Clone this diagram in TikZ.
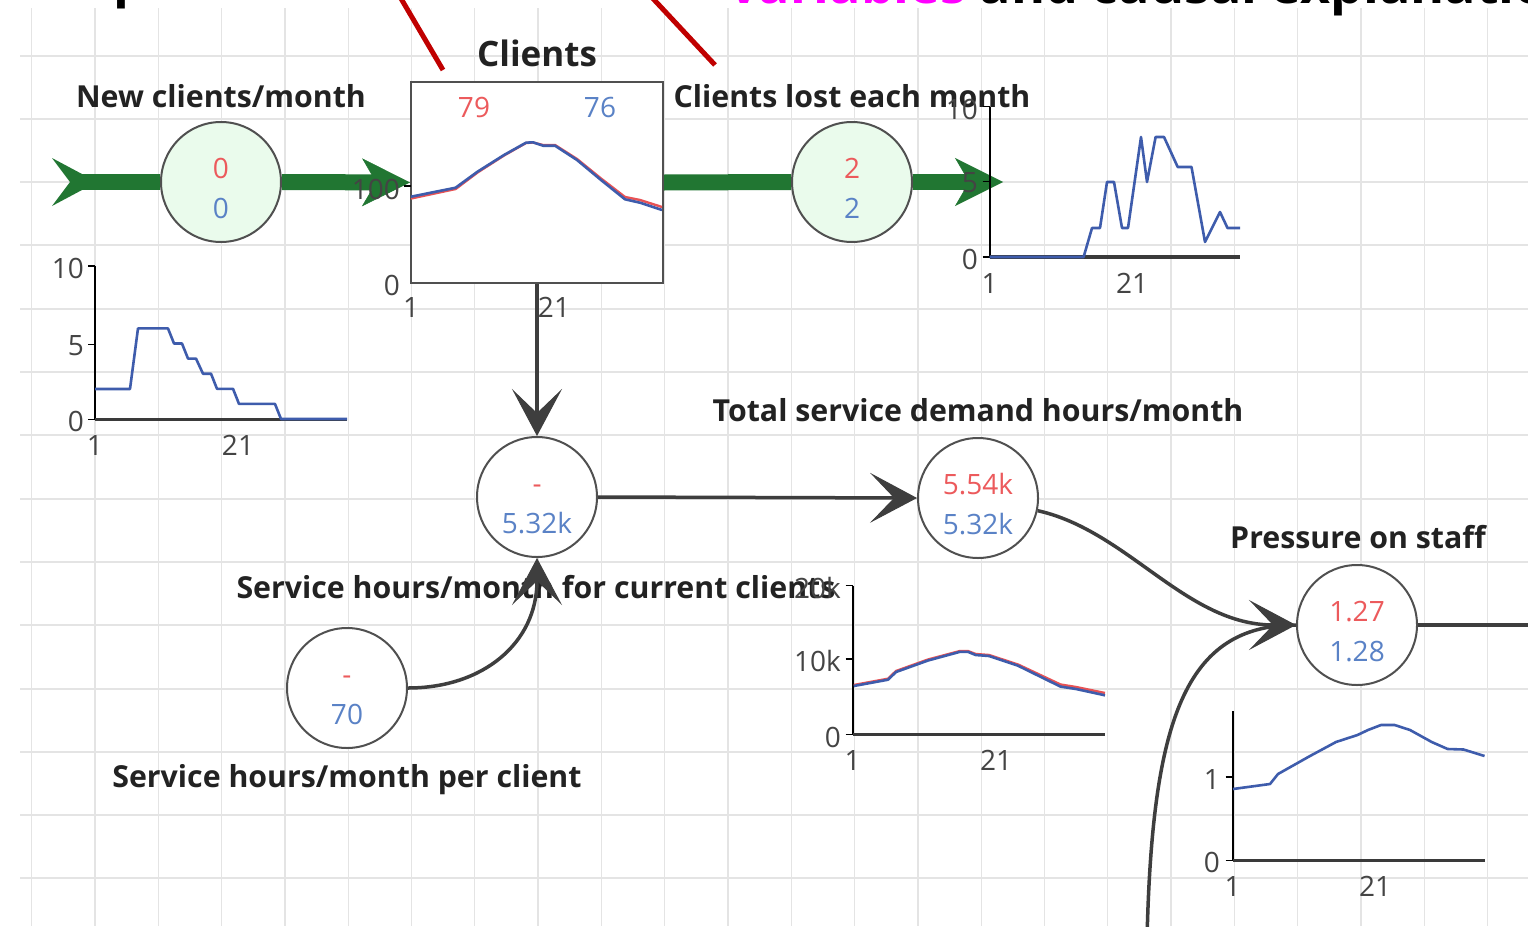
\documentclass[tikz,border=0pt]{standalone}
\usepackage{fontspec}
\setmainfont{Open Sans}
\usetikzlibrary{arrows.meta}
\pgfdeclarelayer{gridlayer}
\pgfdeclarelayer{flowlayer}
\pgfsetlayers{gridlayer,flowlayer,main}

\definecolor{flowgreen}{RGB}{33,118,50}
\definecolor{flowfill}{RGB}{234,251,236}
\definecolor{valred}{RGB}{236,90,92}
\definecolor{valblue}{RGB}{90,130,198}
\definecolor{plotblue}{RGB}{62,92,172}
\definecolor{plotred}{RGB}{232,82,84}
\definecolor{linkgray}{RGB}{62,62,62}
\definecolor{circgray}{RGB}{80,80,80}
\definecolor{gridgray}{RGB}{228,228,228}
\definecolor{axisgray}{RGB}{68,68,68}
\definecolor{labelink}{RGB}{34,34,34}
\definecolor{annred}{RGB}{192,0,0}
\definecolor{titlemagenta}{RGB}{255,0,255}

\newcommand\lblfont{\fontsize{30.3}{34}\selectfont\bfseries}
\newcommand\stocklblfont{\fontsize{35}{40}\selectfont\bfseries}
\newcommand\valfont{\fontsize{28}{32}\selectfont}
\newcommand\mytitlefont{\fontsize{52}{60}\selectfont\bfseries}

\tikzset{
  gridh/.style={draw=gridgray, line width=2pt},
  gridv/.style={draw=gridgray, line width=1.3pt},
  flowcirc/.style={circle, draw=circgray, line width=2pt, fill=flowfill, minimum size=120pt, inner sep=0pt},
  auxcirc/.style={circle, draw=circgray, line width=2pt, fill=white, minimum size=120pt, inner sep=0pt},
  stockbox/.style={rectangle, draw=circgray, line width=2pt, fill=white, minimum width=252pt, minimum height=201pt, inner sep=0pt},
  valr/.style={text=valred, font=\valfont, anchor=base, inner sep=0pt},
  valb/.style={text=valblue, font=\valfont, anchor=base, inner sep=0pt},
  varlabel/.style={text=labelink, font=\lblfont, anchor=base, inner sep=0pt},
  ticklab/.style={text=axisgray, font=\valfont, inner sep=0pt},
  ylab/.style={ticklab, anchor=east},
  xlab/.style={ticklab, anchor=base},
  flowband/.style={draw=flowgreen, line width=16pt},
  flowarrow/.style={flowband, -{Stealth[length=48pt,width=48pt,inset=14pt,line width=0.5pt]}},
  linkplain/.style={draw=linkgray, line width=3.5pt},
  link/.style={linkplain, -{Stealth[length=47pt,width=50pt,inset=24pt,line width=1pt]}},
  yaxis/.style={draw=black, line width=2pt},
  xaxis/.style={draw=axisgray!85!black, line width=3.5pt},
  tickmark/.style={draw=black, line width=1.5pt},
  plotline/.style={draw=plotblue, line width=2.6pt, line join=round},
  plotlinered/.style={draw=plotred, line width=2.4pt, line join=round},
  annot/.style={draw=annred, line width=5pt}
}

\begin{document}
\begin{tikzpicture}[x=1pt,y=-1pt]
\useasboundingbox (0,0) rectangle (1528,926);

% background and grid
\begin{pgfonlayer}{gridlayer}
  \clip (0,0) rectangle (1528,926);
  \fill[white] (0,0) rectangle (1528,926);
  \foreach \k in {0,...,13} {\draw[gridh] (20,{55.5+63.3*\k}) -- (1528,{55.5+63.3*\k});}
  \foreach \k in {0,...,23} {\draw[gridv] ({31.7+63.3*\k},8) -- ({31.7+63.3*\k},926);}
\end{pgfonlayer}

\clip (0,0) rectangle (1528,926);

% heading line, mostly above the page edge
\node[anchor=base west, inner sep=0pt, font=\mytitlefont] (headp) at (113,-4) {p};
\node[anchor=base west, inner sep=0pt, font=\mytitlefont, text=titlemagenta] (headvars) at (729,4) {variables \textcolor{black}{and causal explanation}};

% pointer lines
\coordinate (ptrAfrom) at (396,-10);
\coordinate (ptrAto) at (443,70);
\coordinate (ptrBfrom) at (645,-10);
\coordinate (ptrBto) at (715,65);
\draw[annot] (ptrAfrom) -- (ptrAto);
\draw[annot] (ptrBfrom) -- (ptrBto);

% stock and variables
\node[stockbox] (clients) at (537,182.5) {};
\node[flowcirc] (newc) at (221,182) {};
\node[flowcirc] (lost) at (852,182) {};
\node[auxcirc] (svc) at (537,497) {};
\node[auxcirc] (perc) at (347,688) {};
\node[auxcirc] (total) at (978,498) {};
\node[auxcirc] (press) at (1357,625) {};

% names
\node[text=labelink, font=\stocklblfont, anchor=base, inner sep=0pt] (clients-name) at (537,66) {Clients};
\node[varlabel] (newc-name) at (221,107) {New clients/month};
\node[varlabel] (lost-name) at (852,107) {Clients lost each month};
\node[varlabel] (total-name) at (978,421) {Total service demand hours/month};
\node[varlabel] (svc-name) at (536,598) {Service hours/month for current clients};
\node[varlabel] (perc-name) at (347,787) {Service hours/month per client};
\node[varlabel] (press-name) at (1358,548) {Pressure on staff};

% values
\node[valr] (clients-r) at (474,117) {79};
\node[valb] (clients-b) at (600,117) {76};
\node[valr] (newc-r) at (221,178) {0};
\node[valb] (newc-b) at (221,218) {0};
\node[valr] (lost-r) at (852,178) {2};
\node[valb] (lost-b) at (852,218) {2};
\node[valr] (svc-r) at (537,493) {-};
\node[valb] (svc-b) at (537,533) {5.32k};
\node[valr] (perc-r) at (347,684) {-};
\node[valb] (perc-b) at (347,724) {70};
\node[valr] (total-r) at (978,494) {5.54k};
\node[valb] (total-b) at (978,534) {5.32k};
\node[valr] (press-r) at (1357,621) {1.27};
\node[valb] (press-b) at (1357,661) {1.28};

% flows (under the circles)
\coordinate (source) at (70,182);
\coordinate (sink) at (1003,182);
\begin{pgfonlayer}{flowlayer}
  \clip (0,0) rectangle (1528,926);
  \fill[flowgreen] (source) ++(-18,-24) -- ++(45,24) -- ++(-45,24) -- ++(18,-24) -- cycle;
  \draw[flowband] (source) -- (newc.west);
  \draw[flowarrow] (newc.east) -- (clients.west);
  \draw[flowband] (clients.east) -- (lost.west);
  \draw[flowarrow] (lost.east) -- (sink);
\end{pgfonlayer}

% causal links
\coordinate (extin) at (1147,940);
\coordinate (pressout) at (1532,625);
\draw[link] (clients.south) -- (svc.north);
\draw[link] (perc.east) .. controls +(75,0) and +(0,85) .. (svc.south);
\draw[link] (svc.east) -- (total.west);
\draw[linkplain] (extin) .. controls (1152,720) and (1185,625) .. (press.west);
\draw[link] (total.-12) .. controls +(90,20) and +(-110,0) .. (press.west);
\draw[linkplain] (press.east) -- (pressout);

% chart: new clients per month
\draw[yaxis] (95,266) -- (95,419.5);
\draw[xaxis] (95,419.5) -- (347,419.5);
\foreach \ty in {266,344.5,419.5} {\draw[tickmark] (88,\ty) -- (95,\ty);}
\node[ylab] (nc-y10) at (84,268) {10};
\node[ylab] (nc-y5) at (84,346) {5};
\node[ylab] (nc-y0) at (84,421) {0};
\node[xlab] (nc-x1) at (95,455) {1};
\node[xlab] (nc-x21) at (238,455) {21};
\draw[plotline] (95,389) -- (130,389) -- (138,328.4) -- (168,328.4) -- (174,343.5) -- (182,343.5) -- (188,358.6) -- (196,358.6) -- (203,373.7) -- (211,373.7) -- (217,388.8) -- (233,388.8) -- (239,403.9) -- (275,403.9) -- (281,419) -- (347,419);

% chart: clients (inside the stock)
\draw[tickmark] (404,186) -- (411,186);
\node[ylab] (cl-y100) at (400,189) {100};
\node[ylab] (cl-y0) at (400,285) {0};
\node[xlab] (cl-x1) at (411,317) {1};
\node[xlab] (cl-x21) at (554,317) {21};
\draw[plotlinered] (411,198.5) -- (455.6,189) -- (477.5,172.5) -- (504,155.5) -- (526,143) -- (533,142.5) -- (543,145) -- (555,145) -- (577,159) -- (601,178.5) -- (625,197) -- (640,200) -- (662,207);
\draw[plotline] (411,196.7) -- (455.6,187.7) -- (477.5,171.7) -- (504,155) -- (526,142.7) -- (533,142.3) -- (543,145.7) -- (555,145.7) -- (577,160) -- (601,180) -- (625,199.3) -- (640,202.7) -- (662,210);

% chart: clients lost each month
\draw[yaxis] (989.5,106.5) -- (989.5,257);
\draw[xaxis] (989.5,257) -- (1240,257);
\foreach \ty in {106.5,181.7,257} {\draw[tickmark] (982.5,\ty) -- (989.5,\ty);}
\node[ylab] (cl-ly10) at (978,109) {10};
\node[ylab] (cl-ly5) at (978,183) {5};
\node[ylab] (cl-ly0) at (978,259) {0};
\node[xlab] (cl-lx1) at (989.5,293) {1};
\node[xlab] (cl-lx21) at (1132,293) {21};
\draw[plotline] (989.5,257) -- (1083.6,257) -- (1092,228) -- (1100,228) -- (1107,182) -- (1114,182) -- (1122,228) -- (1128,228) -- (1141,137) -- (1147,182) -- (1155.6,137) -- (1164,137) -- (1177.7,167) -- (1191.5,167) -- (1205,242) -- (1220,212) -- (1227.5,228) -- (1240,228);

% chart: service hours for current clients
\draw[yaxis] (852.7,585.6) -- (852.7,734.7);
\draw[xaxis] (852.7,734.7) -- (1105,734.7);
\foreach \ty in {585.6,659,734.7} {\draw[tickmark] (845.7,\ty) -- (852.7,\ty);}
\node[ylab] (sv-y20) at (841,588) {20k};
\node[ylab] (sv-y10) at (841,661) {10k};
\node[ylab] (sv-y0) at (841,737) {0};
\node[xlab] (sv-x1) at (852.7,770) {1};
\node[xlab] (sv-x21) at (996,770) {21};
\draw[plotlinered] (853.8,685) -- (888,678.7) -- (896,671) -- (928,659.5) -- (960,651) -- (967.8,651) -- (975.7,654) -- (989,655) -- (1018,664.5) -- (1060.5,684.5) -- (1076,687) -- (1105,693);
\draw[plotline] (853.8,686) -- (888,679.7) -- (896,672) -- (928,660.5) -- (960,651.8) -- (967.8,651.8) -- (975.7,655) -- (989,656) -- (1018,665.7) -- (1060.5,686.6) -- (1076,689) -- (1105,695.3);

% chart: pressure on staff
\draw[yaxis] (1232.5,711) -- (1232.5,860.5);
\draw[xaxis] (1232.5,860.5) -- (1484.5,860.5);
\foreach \ty in {777,860.5} {\draw[tickmark] (1225.5,\ty) -- (1232.5,\ty);}
\node[ylab] (pr-y1) at (1220,779) {1};
\node[ylab] (pr-y0) at (1220,862) {0};
\node[xlab] (pr-x1) at (1232.5,896) {1};
\node[xlab] (pr-x21) at (1375,896) {21};
\draw[plotline] (1233,789) -- (1270,784) -- (1278,774) -- (1310,756) -- (1336,742) -- (1357.5,735) -- (1368,730) -- (1381,725) -- (1394.6,725) -- (1410,730) -- (1431.7,742) -- (1447.6,749) -- (1463.5,749.5) -- (1484.5,756);
\end{tikzpicture}
\end{document}
